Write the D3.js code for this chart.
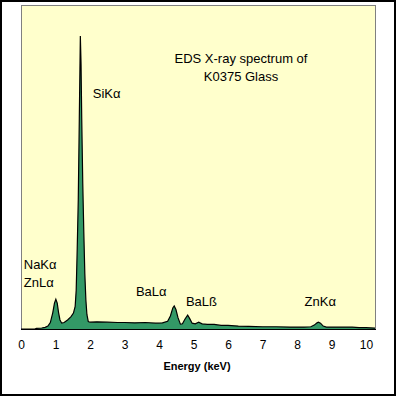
<!DOCTYPE html>
<html>
<head>
<meta charset="utf-8">
<script src="https://cdn.jsdelivr.net/npm/d3@7"></script>
<style>
  body { margin: 0; background: #fff; }
  svg text { font-family: Arial, "Liberation Sans", sans-serif; }
</style>
</head>
<body>
<div id="graph"></div>
<script>
// spectrum (energy in keV, counts in arbitrary units)
const energy = [0, 0.40, 0.45, 0.6, 0.7, 0.78, 0.85, 0.92, 0.97, 1.01, 1.05, 1.09, 1.13, 1.18, 1.25, 1.35, 1.45, 1.52,
    1.57, 1.60, 1.63, 1.66, 1.69, 1.72, 1.74, 1.76, 1.79, 1.82, 1.85, 1.88, 1.91, 1.95, 2.0,
    2.2, 2.5, 2.8, 3.0, 3.3, 3.6, 3.9, 4.1, 4.25, 4.33, 4.40, 4.44, 4.49, 4.55, 4.62, 4.68, 4.75, 4.83, 4.89, 4.96,
    5.05, 5.15, 5.25, 5.4, 5.6, 5.8, 6.0, 6.3, 6.6, 7.0, 7.4, 7.8, 8.2, 8.4, 8.5, 8.58, 8.62, 8.68, 8.76, 8.85,
    9.2, 9.6, 9.8, 10.0, 10.26];
const counts = [0, 0, 0.2, 0.3, 0.5, 0.9, 2.0, 5.0, 8.0, 9.2, 8.0, 5.0, 2.8, 1.8, 2.0, 2.8, 3.8, 4.9,
    7, 12, 25, 40, 65, 90.4, 82, 65, 45, 30, 17, 9, 4.5, 2.3, 2.1,
    2.2, 2.1, 2.0, 2.0, 1.9, 2.0, 1.8, 1.9, 2.4, 4.0, 6.5, 7.1, 6.0, 3.5, 1.5, 1.6, 3.0, 4.3, 3.2, 1.8,
    1.6, 2.1, 1.6, 1.4, 1.4, 1.1, 1.1, 0.9, 0.8, 0.7, 0.7, 0.6, 0.6, 0.7, 1.2, 1.9, 2.1, 1.8, 0.9, 0.6,
    0.6, 0.6, 0.4, 0.4, 0.3];

const xTicks = [0, 1, 2, 3, 4, 5, 6, 7, 8, 9, 10];

const titleLines = ["EDS X-ray spectrum of", "K0375 Glass"];
const peakLabels = [
    { text: "SiKα", e: 2.08, c: 71.3 },
    { text: "NaKα", e: 0.08, c: 18.5 },
    { text: "ZnLα", e: 0.08, c: 13 },
    { text: "BaLα", e: 3.33, c: 10.2 },
    { text: "BaLß", e: 4.78, c: 7.1 },
    { text: "ZnKα", e: 8.22, c: 7.1 }
];

const width = 396, height = 396;
const plot = { left: 21, right: 375, top: 5, bottom: 329 };

const svg = d3.select('#graph')
    .append('svg')
    .attr('width', width)
    .attr('height', height);

// outer frame
svg.append('rect')
    .attr('x', 1).attr('y', 1)
    .attr('width', width - 2).attr('height', height - 2)
    .attr('fill', 'white')
    .attr('stroke', 'black')
    .attr('stroke-width', 2);

const xScale = d3.scaleLinear()
    .domain([0, 10.26])
    .range([plot.left, plot.right]);

const yScale = d3.scaleLinear()
    .domain([0, 100])
    .range([plot.bottom, plot.top]);

// plot area
svg.append('rect')
    .attr('x', plot.left + 0.5).attr('y', plot.top + 0.5)
    .attr('width', plot.right - plot.left).attr('height', plot.bottom - plot.top)
    .attr('fill', '#ffffcc')
    .attr('stroke', '#808080')
    .attr('stroke-width', 1);

const data = energy.map((e, i) => ({ e: e, c: counts[i] }));

const area = d3.area()
    .x(d => xScale(d.e))
    .y0(yScale(0))
    .y1(d => yScale(d.c));

const line = d3.line()
    .x(d => xScale(d.e))
    .y(d => yScale(d.c));

svg.append('path')
    .datum(data)
    .attr('d', area)
    .attr('fill', '#339966');

svg.append('path')
    .datum(data)
    .attr('d', line)
    .attr('fill', 'none')
    .attr('stroke', 'black')
    .attr('stroke-width', 1.2);

svg.append('line')
    .attr('x1', plot.left).attr('x2', plot.right + 1)
    .attr('y1', plot.bottom + 0.5).attr('y2', plot.bottom + 0.5)
    .attr('stroke', 'black');

// x axis, labels only
const xAxis = d3.axisBottom(xScale)
    .tickValues(xTicks)
    .tickSize(0)
    .tickPadding(10);

const gx = svg.append('g')
    .attr('transform', 'translate(0,' + (plot.bottom + 1) + ')')
    .call(xAxis);
gx.select('.domain').remove();
gx.selectAll('text')
    .attr('font-family', 'Arial, "Liberation Sans", sans-serif')
    .attr('font-size', 12)
    .attr('fill', 'black');

svg.append('text')
    .text('Energy (keV)')
    .attr('x', 197)
    .attr('y', 370)
    .attr('text-anchor', 'middle')
    .attr('font-size', 11)
    .attr('font-weight', 'bold');

// title inside plot
svg.selectAll('.title')
    .data(titleLines)
    .enter()
    .append('text')
    .attr('class', 'title')
    .text(d => d)
    .attr('x', 241)
    .attr('y', (d, i) => 63 + i * 18)
    .attr('text-anchor', 'middle')
    .attr('font-size', 13);

svg.selectAll('.peak')
    .data(peakLabels)
    .enter()
    .append('text')
    .attr('class', 'peak')
    .text(d => d.text)
    .attr('x', d => xScale(d.e))
    .attr('y', d => yScale(d.c))
    .attr('font-size', 13);
</script>
</body>
</html>
